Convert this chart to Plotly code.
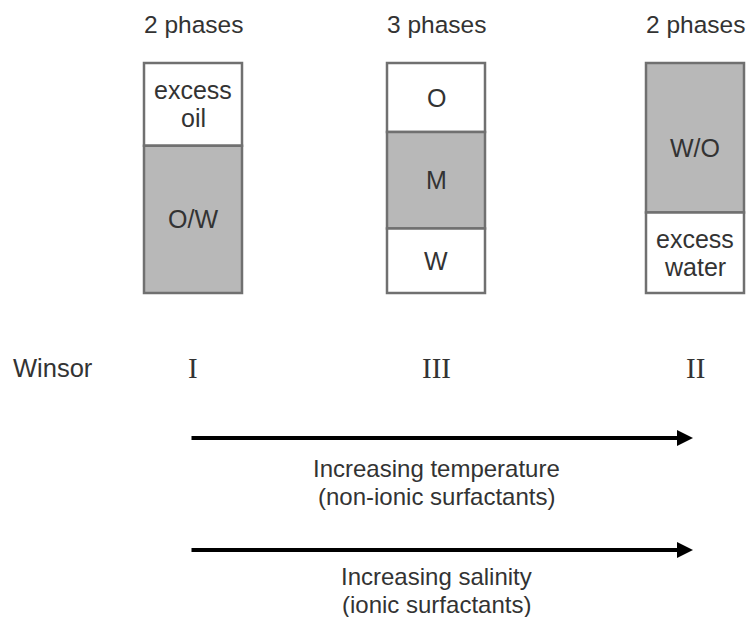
import plotly.graph_objects as go

# ---- data ----
winsor_types = ["I", "III", "II"]
phase_counts = ["2 phases", "3 phases", "2 phases"]
# segments of each tube, listed top to bottom: labels and volume fractions
seg_labels = [["excess<br>oil", "O/W"], ["O", "M", "W"], ["W/O", "excess<br>water"]]
seg_fracs = [[0.36, 0.64], [0.30, 0.42, 0.28], [0.65, 0.35]]
seg_kind = [["excess", "micro"], ["excess", "micro", "excess"], ["micro", "excess"]]
arrow_labels = ["Increasing temperature<br>(non-ionic surfactants)",
                "Increasing salinity<br>(ionic surfactants)"]

# ---- layout constants (page pixel coordinates) ----
W, H = 746, 617
tube_cx = [193, 436, 695]
tube_w = 98
tube_top, tube_h = 63, 230
line_gap = 28
fill = {"excess": "#ffffff", "micro": "#b8b8b8"}
txt = "#333333"
sans = "Liberation Sans"
serif = "Liberation Serif"

annotations = []


def add_text(x, yc, text, size, family=sans):
    lines = text.split("<br>")
    n = len(lines)
    for k, ln in enumerate(lines):
        y = yc + (k - (n - 1) / 2) * line_gap
        annotations.append(dict(x=x, y=y, text=ln, showarrow=False,
                                font=dict(family=family, size=size, color=txt)))


fig = go.Figure()
for i in range(3):
    cum = 0.0
    for lab, fr, kind in zip(seg_labels[i], seg_fracs[i], seg_kind[i]):
        base = tube_top + cum * tube_h
        h = fr * tube_h
        fig.add_trace(go.Bar(x=[tube_cx[i]], y=[h], base=[base], width=[tube_w],
                             marker=dict(color=fill[kind], line=dict(color="#707070", width=2.5)),
                             hoverinfo="skip", showlegend=False))
        ty = base + h / 2
        if lab == "W/O":
            ty += 10
        add_text(tube_cx[i], ty, lab, 25)
        cum += fr
    add_text(tube_cx[i], 24, phase_counts[i], 24.5)
    add_text(tube_cx[i], 368, winsor_types[i], 29, serif)

add_text(53, 368, "Winsor", 25.5)

for ay, gap, lab in zip([438, 550], [44, 40], arrow_labels):
    annotations.append(dict(x=693, y=ay, ax=190, ay=ay, xref="x", yref="y", axref="x", ayref="y",
                            text="", showarrow=True, arrowhead=2, arrowsize=0.8, arrowwidth=4,
                            arrowcolor="#000000"))
    add_text(436, ay + gap, lab, 24)

fig.update_layout(
    width=W, height=H, margin=dict(l=0, r=0, t=0, b=0),
    paper_bgcolor="white", plot_bgcolor="white", barmode="overlay",
    xaxis=dict(range=[0, W], visible=False, fixedrange=True),
    yaxis=dict(range=[H, 0], visible=False, fixedrange=True),
    annotations=annotations,
)
fig.write_html("out.html", config={"displayModeBar": False},
               post_script="document.body.style.margin='0';document.body.style.overflow='hidden';")
